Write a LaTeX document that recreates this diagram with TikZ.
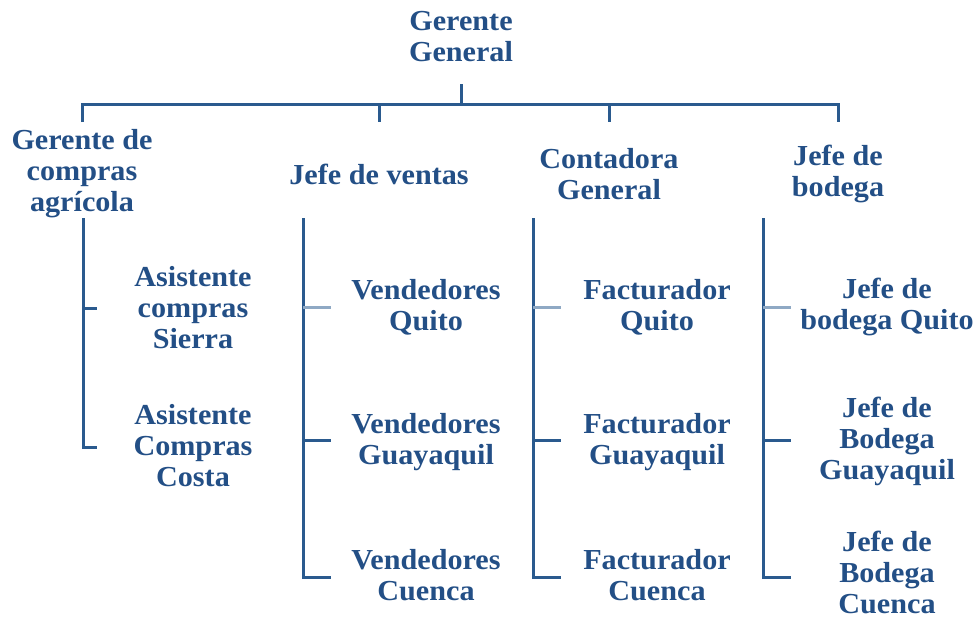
\documentclass[tikz,border=0pt]{standalone}
\usepackage{fontspec}
\setmainfont{Liberation Serif}[FakeStretch=1.04]
\definecolor{txtblue}{HTML}{234F86}
\definecolor{lineblue}{HTML}{2A5A8E}
\definecolor{lightblue}{HTML}{8FA9C4}
\begin{document}
\begin{tikzpicture}[x=1pt,y=-1pt,
  lbl/.style={text=txtblue, font=\fontsize{29}{31}\selectfont\bfseries, align=center, inner sep=0pt},
  conn/.style={draw=lineblue, line width=3pt},
  tick/.style={draw=lineblue, line width=3pt},
  ltick/.style={draw=lightblue, line width=3pt}]
\useasboundingbox (0,0) rectangle (977,618);
% level 1
\node[lbl] (gg) at (461,37) {Gerente\\General};
% level 2
\node[lbl] (gca) at (82,174) {Gerente de\\compras\\agrícola};
\node[lbl] (jv) at (379,174) {Jefe de ventas};
\node[lbl] (cg) at (609,174) {Contadora\\General};
\node[lbl] (jb) at (838,174) {Jefe de\\bodega};
% level 3
\node[lbl] (as1) at (193,308) {Asistente\\compras\\Sierra};
\node[lbl] (as2) at (193,446) {Asistente\\Compras\\Costa};
\node[lbl] (vq) at (426,307) {Vendedores\\Quito};
\node[lbl] (vg) at (426,442) {Vendedores\\Guayaquil};
\node[lbl] (vc) at (426,575) {Vendedores\\Cuenca};
\node[lbl] (fq) at (657,307) {Facturador\\Quito};
\node[lbl] (fg) at (657,442) {Facturador\\Guayaquil};
\node[lbl] (fc) at (657,575) {Facturador\\Cuenca};
\node[lbl] (bq) at (887,307) {Jefe de\\bodega Quito};
\node[lbl] (bg) at (887,441) {Jefe de\\Bodega\\Guayaquil};
\node[lbl] (bc) at (887,572) {Jefe de\\Bodega\\Cuenca};
% connector coordinates
\coordinate (ggb) at (461,84);
\coordinate (bus) at (461,104);
\coordinate (d1) at (82,104); \coordinate (d1b) at (82,122);
\coordinate (d2) at (379,104); \coordinate (d2b) at (379,122);
\coordinate (d3) at (609,104); \coordinate (d3b) at (609,122);
\coordinate (d4) at (838,104); \coordinate (d4b) at (838,122);
% top connectors
\draw[conn] (ggb) -- (bus);
\draw[conn] (d1b) -- (d1) -- (d4) -- (d4b);
\draw[conn] (d2) -- (d2b);
\draw[conn] (d3) -- (d3b);
% column 1
\coordinate (c1t) at (83,218); \coordinate (c1b) at (83,447);
\draw[conn] (c1t) -- (c1b) -- (97,447);
\draw[tick] (83,308) -- (97,308);
% columns 2-4
\foreach \x/\n in {303/2,533/3,763/4}{
  \coordinate (c\n t) at (\x,218);
  \coordinate (c\n b) at (\x,577);
  \draw[conn] (c\n t) -- (c\n b) -- ++(28,0);
  \draw[ltick] (\x,307) -- ++(28,0);
  \draw[tick] (\x,440) -- ++(28,0);
}
\end{tikzpicture}
\end{document}
